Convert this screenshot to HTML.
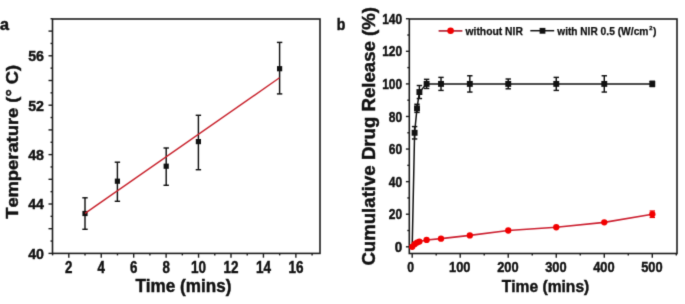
<!DOCTYPE html>
<html><head><meta charset="utf-8"><style>
html,body{margin:0;padding:0;background:#fff;width:685px;height:304px;overflow:hidden}
svg{display:block;font-family:"Liberation Sans", sans-serif;font-kerning:none}
</style></head><body>
<svg width="685" height="304" viewBox="0 0 685 304">
<defs><filter id="bl" color-interpolation-filters="sRGB" x="0" y="0" width="685" height="304" filterUnits="userSpaceOnUse"><feConvolveMatrix order="3" kernelMatrix="0.01440 0.09120 0.01440 0.09120 0.57760 0.09120 0.01440 0.09120 0.01440" edgeMode="duplicate" preserveAlpha="true"/></filter></defs>
<rect width="685" height="304" fill="#fff"/>
<g filter="url(#bl)">
<rect width="685" height="304" fill="#fff"/>
<rect x="52.5" y="19.0" width="267.5" height="234.4" fill="none" stroke="#1c1c1c" stroke-width="1.6"/>
<line x1="48.5" y1="253.40" x2="52.5" y2="253.40" stroke="#1c1c1c" stroke-width="1.4"/>
<line x1="50.5" y1="241.05" x2="52.5" y2="241.05" stroke="#1c1c1c" stroke-width="1.4"/>
<line x1="48.5" y1="228.70" x2="52.5" y2="228.70" stroke="#1c1c1c" stroke-width="1.4"/>
<line x1="50.5" y1="216.35" x2="52.5" y2="216.35" stroke="#1c1c1c" stroke-width="1.4"/>
<line x1="48.5" y1="204.00" x2="52.5" y2="204.00" stroke="#1c1c1c" stroke-width="1.4"/>
<line x1="50.5" y1="191.65" x2="52.5" y2="191.65" stroke="#1c1c1c" stroke-width="1.4"/>
<line x1="48.5" y1="179.30" x2="52.5" y2="179.30" stroke="#1c1c1c" stroke-width="1.4"/>
<line x1="50.5" y1="166.95" x2="52.5" y2="166.95" stroke="#1c1c1c" stroke-width="1.4"/>
<line x1="48.5" y1="154.60" x2="52.5" y2="154.60" stroke="#1c1c1c" stroke-width="1.4"/>
<line x1="50.5" y1="142.25" x2="52.5" y2="142.25" stroke="#1c1c1c" stroke-width="1.4"/>
<line x1="48.5" y1="129.90" x2="52.5" y2="129.90" stroke="#1c1c1c" stroke-width="1.4"/>
<line x1="50.5" y1="117.55" x2="52.5" y2="117.55" stroke="#1c1c1c" stroke-width="1.4"/>
<line x1="48.5" y1="105.20" x2="52.5" y2="105.20" stroke="#1c1c1c" stroke-width="1.4"/>
<line x1="50.5" y1="92.85" x2="52.5" y2="92.85" stroke="#1c1c1c" stroke-width="1.4"/>
<line x1="48.5" y1="80.50" x2="52.5" y2="80.50" stroke="#1c1c1c" stroke-width="1.4"/>
<line x1="50.5" y1="68.15" x2="52.5" y2="68.15" stroke="#1c1c1c" stroke-width="1.4"/>
<line x1="48.5" y1="55.80" x2="52.5" y2="55.80" stroke="#1c1c1c" stroke-width="1.4"/>
<line x1="50.5" y1="43.45" x2="52.5" y2="43.45" stroke="#1c1c1c" stroke-width="1.4"/>
<line x1="48.5" y1="31.10" x2="52.5" y2="31.10" stroke="#1c1c1c" stroke-width="1.4"/>
<line x1="50.5" y1="18.75" x2="52.5" y2="18.75" stroke="#1c1c1c" stroke-width="1.4"/>
<line x1="52.58" y1="253.4" x2="52.58" y2="255.4" stroke="#1c1c1c" stroke-width="1.4"/>
<line x1="68.80" y1="253.4" x2="68.80" y2="257.7" stroke="#1c1c1c" stroke-width="1.4"/>
<line x1="85.02" y1="253.4" x2="85.02" y2="255.4" stroke="#1c1c1c" stroke-width="1.4"/>
<line x1="101.24" y1="253.4" x2="101.24" y2="257.7" stroke="#1c1c1c" stroke-width="1.4"/>
<line x1="117.46" y1="253.4" x2="117.46" y2="255.4" stroke="#1c1c1c" stroke-width="1.4"/>
<line x1="133.68" y1="253.4" x2="133.68" y2="257.7" stroke="#1c1c1c" stroke-width="1.4"/>
<line x1="149.90" y1="253.4" x2="149.90" y2="255.4" stroke="#1c1c1c" stroke-width="1.4"/>
<line x1="166.12" y1="253.4" x2="166.12" y2="257.7" stroke="#1c1c1c" stroke-width="1.4"/>
<line x1="182.34" y1="253.4" x2="182.34" y2="255.4" stroke="#1c1c1c" stroke-width="1.4"/>
<line x1="198.56" y1="253.4" x2="198.56" y2="257.7" stroke="#1c1c1c" stroke-width="1.4"/>
<line x1="214.78" y1="253.4" x2="214.78" y2="255.4" stroke="#1c1c1c" stroke-width="1.4"/>
<line x1="231.00" y1="253.4" x2="231.00" y2="257.7" stroke="#1c1c1c" stroke-width="1.4"/>
<line x1="247.22" y1="253.4" x2="247.22" y2="255.4" stroke="#1c1c1c" stroke-width="1.4"/>
<line x1="263.44" y1="253.4" x2="263.44" y2="257.7" stroke="#1c1c1c" stroke-width="1.4"/>
<line x1="279.66" y1="253.4" x2="279.66" y2="255.4" stroke="#1c1c1c" stroke-width="1.4"/>
<line x1="295.88" y1="253.4" x2="295.88" y2="257.7" stroke="#1c1c1c" stroke-width="1.4"/>
<line x1="312.10" y1="253.4" x2="312.10" y2="255.4" stroke="#1c1c1c" stroke-width="1.4"/>
<text x="44.0" y="258.75" font-size="15.4" font-weight="bold" text-anchor="end" fill="#111" stroke="#111" stroke-width="0.45" textLength="15.8" lengthAdjust="spacingAndGlyphs">40</text>
<text x="44.0" y="209.35" font-size="15.4" font-weight="bold" text-anchor="end" fill="#111" stroke="#111" stroke-width="0.45" textLength="15.8" lengthAdjust="spacingAndGlyphs">44</text>
<text x="44.0" y="159.95000000000002" font-size="15.4" font-weight="bold" text-anchor="end" fill="#111" stroke="#111" stroke-width="0.45" textLength="15.8" lengthAdjust="spacingAndGlyphs">48</text>
<text x="44.0" y="110.55000000000001" font-size="15.4" font-weight="bold" text-anchor="end" fill="#111" stroke="#111" stroke-width="0.45" textLength="15.8" lengthAdjust="spacingAndGlyphs">52</text>
<text x="44.0" y="61.15000000000001" font-size="15.4" font-weight="bold" text-anchor="end" fill="#111" stroke="#111" stroke-width="0.45" textLength="15.8" lengthAdjust="spacingAndGlyphs">56</text>
<text x="68.80" y="272.5" font-size="16.0" font-weight="bold" text-anchor="middle" fill="#111" stroke="#111" stroke-width="0.45" textLength="7.4" lengthAdjust="spacingAndGlyphs">2</text>
<text x="101.24" y="272.5" font-size="16.0" font-weight="bold" text-anchor="middle" fill="#111" stroke="#111" stroke-width="0.45" textLength="7.4" lengthAdjust="spacingAndGlyphs">4</text>
<text x="133.68" y="272.5" font-size="16.0" font-weight="bold" text-anchor="middle" fill="#111" stroke="#111" stroke-width="0.45" textLength="7.4" lengthAdjust="spacingAndGlyphs">6</text>
<text x="166.12" y="272.5" font-size="16.0" font-weight="bold" text-anchor="middle" fill="#111" stroke="#111" stroke-width="0.45" textLength="7.4" lengthAdjust="spacingAndGlyphs">8</text>
<text x="198.56" y="272.5" font-size="16.0" font-weight="bold" text-anchor="middle" fill="#111" stroke="#111" stroke-width="0.45" textLength="15.0" lengthAdjust="spacingAndGlyphs">10</text>
<text x="231.00" y="272.5" font-size="16.0" font-weight="bold" text-anchor="middle" fill="#111" stroke="#111" stroke-width="0.45" textLength="15.0" lengthAdjust="spacingAndGlyphs">12</text>
<text x="263.44" y="272.5" font-size="16.0" font-weight="bold" text-anchor="middle" fill="#111" stroke="#111" stroke-width="0.45" textLength="15.0" lengthAdjust="spacingAndGlyphs">14</text>
<text x="295.88" y="272.5" font-size="16.0" font-weight="bold" text-anchor="middle" fill="#111" stroke="#111" stroke-width="0.45" textLength="15.0" lengthAdjust="spacingAndGlyphs">16</text>
<text x="135.4" y="291.8" font-size="17.8" font-weight="bold" text-anchor="start" fill="#111" stroke="#111" stroke-width="0.45" textLength="96.0" lengthAdjust="spacingAndGlyphs">Time (mins)</text>
<text x="18.2" y="218.8" font-size="16.6" font-weight="bold" text-anchor="start" fill="#111" stroke="#111" stroke-width="0.45" textLength="154" lengthAdjust="spacingAndGlyphs" transform="rotate(-90 18.2 218.8)">Temperature (° C)</text>
<text x="0.1" y="29.7" font-size="16.0" font-weight="bold" text-anchor="start" fill="#111" stroke="#111" stroke-width="0.5" textLength="9.0" lengthAdjust="spacingAndGlyphs">a</text>
<line x1="85.0" y1="197.8" x2="85.0" y2="229.3" stroke="#111" stroke-width="1.45"/>
<line x1="82.3" y1="197.8" x2="87.7" y2="197.8" stroke="#111" stroke-width="1.45"/>
<line x1="82.3" y1="229.3" x2="87.7" y2="229.3" stroke="#111" stroke-width="1.45"/>
<rect x="82.4" y="210.9" width="5.2" height="5.2" fill="#111"/>
<line x1="117.4" y1="162.2" x2="117.4" y2="201.3" stroke="#111" stroke-width="1.45"/>
<line x1="114.7" y1="162.2" x2="120.10000000000001" y2="162.2" stroke="#111" stroke-width="1.45"/>
<line x1="114.7" y1="201.3" x2="120.10000000000001" y2="201.3" stroke="#111" stroke-width="1.45"/>
<rect x="114.80000000000001" y="178.6" width="5.2" height="5.2" fill="#111"/>
<line x1="166.2" y1="148" x2="166.2" y2="185.3" stroke="#111" stroke-width="1.45"/>
<line x1="163.5" y1="148" x2="168.89999999999998" y2="148" stroke="#111" stroke-width="1.45"/>
<line x1="163.5" y1="185.3" x2="168.89999999999998" y2="185.3" stroke="#111" stroke-width="1.45"/>
<rect x="163.6" y="163.6" width="5.2" height="5.2" fill="#111"/>
<line x1="198.4" y1="115.3" x2="198.4" y2="169.7" stroke="#111" stroke-width="1.45"/>
<line x1="195.70000000000002" y1="115.3" x2="201.1" y2="115.3" stroke="#111" stroke-width="1.45"/>
<line x1="195.70000000000002" y1="169.7" x2="201.1" y2="169.7" stroke="#111" stroke-width="1.45"/>
<rect x="195.8" y="139.0" width="5.2" height="5.2" fill="#111"/>
<line x1="279.6" y1="42.4" x2="279.6" y2="93.9" stroke="#111" stroke-width="1.45"/>
<line x1="276.90000000000003" y1="42.4" x2="282.3" y2="42.4" stroke="#111" stroke-width="1.45"/>
<line x1="276.90000000000003" y1="93.9" x2="282.3" y2="93.9" stroke="#111" stroke-width="1.45"/>
<rect x="277.0" y="66.10000000000001" width="5.2" height="5.2" fill="#111"/>
<line x1="85" y1="213.4" x2="279.5" y2="77.8" stroke="#c8222c" stroke-width="1.4"/>
<rect x="409.3" y="19.0" width="267.7" height="234.5" fill="none" stroke="#1c1c1c" stroke-width="1.6"/>
<line x1="405.90000000000003" y1="246.80" x2="409.3" y2="246.80" stroke="#1c1c1c" stroke-width="1.4"/>
<line x1="407.3" y1="230.51" x2="409.3" y2="230.51" stroke="#1c1c1c" stroke-width="1.4"/>
<line x1="405.90000000000003" y1="214.22" x2="409.3" y2="214.22" stroke="#1c1c1c" stroke-width="1.4"/>
<line x1="407.3" y1="197.93" x2="409.3" y2="197.93" stroke="#1c1c1c" stroke-width="1.4"/>
<line x1="405.90000000000003" y1="181.64" x2="409.3" y2="181.64" stroke="#1c1c1c" stroke-width="1.4"/>
<line x1="407.3" y1="165.35" x2="409.3" y2="165.35" stroke="#1c1c1c" stroke-width="1.4"/>
<line x1="405.90000000000003" y1="149.06" x2="409.3" y2="149.06" stroke="#1c1c1c" stroke-width="1.4"/>
<line x1="407.3" y1="132.77" x2="409.3" y2="132.77" stroke="#1c1c1c" stroke-width="1.4"/>
<line x1="405.90000000000003" y1="116.48" x2="409.3" y2="116.48" stroke="#1c1c1c" stroke-width="1.4"/>
<line x1="407.3" y1="100.19" x2="409.3" y2="100.19" stroke="#1c1c1c" stroke-width="1.4"/>
<line x1="405.90000000000003" y1="83.90" x2="409.3" y2="83.90" stroke="#1c1c1c" stroke-width="1.4"/>
<line x1="407.3" y1="67.61" x2="409.3" y2="67.61" stroke="#1c1c1c" stroke-width="1.4"/>
<line x1="405.90000000000003" y1="51.32" x2="409.3" y2="51.32" stroke="#1c1c1c" stroke-width="1.4"/>
<line x1="407.3" y1="35.03" x2="409.3" y2="35.03" stroke="#1c1c1c" stroke-width="1.4"/>
<line x1="405.90000000000003" y1="18.74" x2="409.3" y2="18.74" stroke="#1c1c1c" stroke-width="1.4"/>
<line x1="412.20" y1="253.5" x2="412.20" y2="257.8" stroke="#1c1c1c" stroke-width="1.4"/>
<line x1="436.21" y1="253.5" x2="436.21" y2="255.5" stroke="#1c1c1c" stroke-width="1.4"/>
<line x1="460.22" y1="253.5" x2="460.22" y2="257.8" stroke="#1c1c1c" stroke-width="1.4"/>
<line x1="484.23" y1="253.5" x2="484.23" y2="255.5" stroke="#1c1c1c" stroke-width="1.4"/>
<line x1="508.24" y1="253.5" x2="508.24" y2="257.8" stroke="#1c1c1c" stroke-width="1.4"/>
<line x1="532.25" y1="253.5" x2="532.25" y2="255.5" stroke="#1c1c1c" stroke-width="1.4"/>
<line x1="556.26" y1="253.5" x2="556.26" y2="257.8" stroke="#1c1c1c" stroke-width="1.4"/>
<line x1="580.27" y1="253.5" x2="580.27" y2="255.5" stroke="#1c1c1c" stroke-width="1.4"/>
<line x1="604.28" y1="253.5" x2="604.28" y2="257.8" stroke="#1c1c1c" stroke-width="1.4"/>
<line x1="628.29" y1="253.5" x2="628.29" y2="255.5" stroke="#1c1c1c" stroke-width="1.4"/>
<line x1="652.30" y1="253.5" x2="652.30" y2="257.8" stroke="#1c1c1c" stroke-width="1.4"/>
<line x1="676.31" y1="253.5" x2="676.31" y2="255.5" stroke="#1c1c1c" stroke-width="1.4"/>
<text x="402.2" y="251.90" font-size="14.4" font-weight="bold" text-anchor="end" fill="#111" stroke="#111" stroke-width="0.45" textLength="7.5" lengthAdjust="spacingAndGlyphs">0</text>
<text x="402.2" y="219.32" font-size="14.4" font-weight="bold" text-anchor="end" fill="#111" stroke="#111" stroke-width="0.45" textLength="13.4" lengthAdjust="spacingAndGlyphs">20</text>
<text x="402.2" y="186.74" font-size="14.4" font-weight="bold" text-anchor="end" fill="#111" stroke="#111" stroke-width="0.45" textLength="13.4" lengthAdjust="spacingAndGlyphs">40</text>
<text x="402.2" y="154.16" font-size="14.4" font-weight="bold" text-anchor="end" fill="#111" stroke="#111" stroke-width="0.45" textLength="13.4" lengthAdjust="spacingAndGlyphs">60</text>
<text x="402.2" y="121.58" font-size="14.4" font-weight="bold" text-anchor="end" fill="#111" stroke="#111" stroke-width="0.45" textLength="13.4" lengthAdjust="spacingAndGlyphs">80</text>
<text x="402.2" y="89.00" font-size="14.4" font-weight="bold" text-anchor="end" fill="#111" stroke="#111" stroke-width="0.45" textLength="20.0" lengthAdjust="spacingAndGlyphs">100</text>
<text x="402.2" y="56.42" font-size="14.4" font-weight="bold" text-anchor="end" fill="#111" stroke="#111" stroke-width="0.45" textLength="20.0" lengthAdjust="spacingAndGlyphs">120</text>
<text x="402.2" y="23.84" font-size="14.4" font-weight="bold" text-anchor="end" fill="#111" stroke="#111" stroke-width="0.45" textLength="20.0" lengthAdjust="spacingAndGlyphs">140</text>
<text x="410.60" y="272.0" font-size="14.9" font-weight="bold" text-anchor="middle" fill="#111" stroke="#111" stroke-width="0.45" textLength="6.8" lengthAdjust="spacingAndGlyphs">0</text>
<text x="459.82" y="272.0" font-size="14.9" font-weight="bold" text-anchor="middle" fill="#111" stroke="#111" stroke-width="0.45" textLength="21.4" lengthAdjust="spacingAndGlyphs">100</text>
<text x="507.84" y="272.0" font-size="14.9" font-weight="bold" text-anchor="middle" fill="#111" stroke="#111" stroke-width="0.45" textLength="21.4" lengthAdjust="spacingAndGlyphs">200</text>
<text x="555.86" y="272.0" font-size="14.9" font-weight="bold" text-anchor="middle" fill="#111" stroke="#111" stroke-width="0.45" textLength="21.4" lengthAdjust="spacingAndGlyphs">300</text>
<text x="603.88" y="272.0" font-size="14.9" font-weight="bold" text-anchor="middle" fill="#111" stroke="#111" stroke-width="0.45" textLength="21.4" lengthAdjust="spacingAndGlyphs">400</text>
<text x="651.90" y="272.0" font-size="14.9" font-weight="bold" text-anchor="middle" fill="#111" stroke="#111" stroke-width="0.45" textLength="21.4" lengthAdjust="spacingAndGlyphs">500</text>
<text x="501.7" y="291.6" font-size="17.3" font-weight="bold" text-anchor="start" fill="#111" stroke="#111" stroke-width="0.45" textLength="87.6" lengthAdjust="spacingAndGlyphs">Time (mins)</text>
<text x="374.7" y="265.6" font-size="17.6" font-weight="bold" text-anchor="start" fill="#111" stroke="#111" stroke-width="0.45" textLength="258.6" lengthAdjust="spacingAndGlyphs" transform="rotate(-90 374.7 265.6)">Cumulative Drug Release (%)</text>
<text x="336.8" y="29.5" font-size="15.6" font-weight="bold" text-anchor="start" fill="#111" stroke="#111" stroke-width="0.45" textLength="8.6" lengthAdjust="spacingAndGlyphs">b</text>
<line x1="438.6" y1="30.9" x2="462.4" y2="30.9" stroke="#b83040" stroke-width="1.8"/>
<circle cx="450.6" cy="30.8" r="3.3" fill="#f20000"/>
<text x="465.5" y="34.5" font-size="10.3" font-weight="bold" text-anchor="start" fill="#111" stroke="#111" stroke-width="0.25" textLength="57.4" lengthAdjust="spacingAndGlyphs">without NIR</text>
<line x1="530.3" y1="30.7" x2="554.2" y2="30.7" stroke="#111" stroke-width="1.5"/>
<rect x="539.6" y="27.9" width="5.8" height="5.8" fill="#111"/>
<text x="557.3" y="34.5" font-size="10.3" font-weight="bold" text-anchor="start" fill="#111" stroke="#111" stroke-width="0.25" textLength="40.4" lengthAdjust="spacingAndGlyphs">with NIR</text>
<text x="600.6" y="34.5" font-size="10.3" font-weight="bold" text-anchor="start" fill="#111" stroke="#111" stroke-width="0.25" textLength="47.9" lengthAdjust="spacingAndGlyphs">0.5 (W/cm</text>
<text x="649.3" y="29.6" font-size="5.8" font-weight="bold" text-anchor="start" fill="#111" stroke="#111" stroke-width="0.3">2</text>
<text x="652.9" y="34.5" font-size="10.3" font-weight="bold" text-anchor="start" fill="#111" stroke="#111" stroke-width="0.25">)</text>
<polyline points="412.20,246.80 414.60,132.77 417.00,108.34 419.40,92.05 426.61,83.90 441.01,83.90 469.82,83.90 508.24,83.90 556.26,83.90 604.28,83.90 652.30,83.90" fill="none" stroke="#111" stroke-width="1.5"/>
<line x1="414.60" y1="126.58" x2="414.60" y2="138.96" stroke="#111" stroke-width="1.45"/>
<line x1="411.90" y1="126.58" x2="417.30" y2="126.58" stroke="#111" stroke-width="1.45"/>
<line x1="411.90" y1="138.96" x2="417.30" y2="138.96" stroke="#111" stroke-width="1.45"/>
<rect x="411.65" y="129.82" width="5.9" height="5.9" fill="#111"/>
<line x1="417.00" y1="104.26" x2="417.00" y2="112.41" stroke="#111" stroke-width="1.45"/>
<line x1="414.30" y1="104.26" x2="419.70" y2="104.26" stroke="#111" stroke-width="1.45"/>
<line x1="414.30" y1="112.41" x2="419.70" y2="112.41" stroke="#111" stroke-width="1.45"/>
<rect x="414.05" y="105.39" width="5.9" height="5.9" fill="#111"/>
<line x1="419.40" y1="85.53" x2="419.40" y2="98.56" stroke="#111" stroke-width="1.45"/>
<line x1="416.70" y1="85.53" x2="422.10" y2="85.53" stroke="#111" stroke-width="1.45"/>
<line x1="416.70" y1="98.56" x2="422.10" y2="98.56" stroke="#111" stroke-width="1.45"/>
<rect x="416.45" y="89.10" width="5.9" height="5.9" fill="#111"/>
<line x1="426.61" y1="79.34" x2="426.61" y2="88.46" stroke="#111" stroke-width="1.45"/>
<line x1="423.91" y1="79.34" x2="429.31" y2="79.34" stroke="#111" stroke-width="1.45"/>
<line x1="423.91" y1="88.46" x2="429.31" y2="88.46" stroke="#111" stroke-width="1.45"/>
<rect x="423.66" y="80.95" width="5.9" height="5.9" fill="#111"/>
<line x1="441.01" y1="77.38" x2="441.01" y2="90.42" stroke="#111" stroke-width="1.45"/>
<line x1="438.31" y1="77.38" x2="443.71" y2="77.38" stroke="#111" stroke-width="1.45"/>
<line x1="438.31" y1="90.42" x2="443.71" y2="90.42" stroke="#111" stroke-width="1.45"/>
<rect x="438.06" y="80.95" width="5.9" height="5.9" fill="#111"/>
<line x1="469.82" y1="75.76" x2="469.82" y2="92.05" stroke="#111" stroke-width="1.45"/>
<line x1="467.12" y1="75.76" x2="472.52" y2="75.76" stroke="#111" stroke-width="1.45"/>
<line x1="467.12" y1="92.05" x2="472.52" y2="92.05" stroke="#111" stroke-width="1.45"/>
<rect x="466.87" y="80.95" width="5.9" height="5.9" fill="#111"/>
<line x1="508.24" y1="79.01" x2="508.24" y2="88.79" stroke="#111" stroke-width="1.45"/>
<line x1="505.54" y1="79.01" x2="510.94" y2="79.01" stroke="#111" stroke-width="1.45"/>
<line x1="505.54" y1="88.79" x2="510.94" y2="88.79" stroke="#111" stroke-width="1.45"/>
<rect x="505.29" y="80.95" width="5.9" height="5.9" fill="#111"/>
<line x1="556.26" y1="77.38" x2="556.26" y2="90.42" stroke="#111" stroke-width="1.45"/>
<line x1="553.56" y1="77.38" x2="558.96" y2="77.38" stroke="#111" stroke-width="1.45"/>
<line x1="553.56" y1="90.42" x2="558.96" y2="90.42" stroke="#111" stroke-width="1.45"/>
<rect x="553.31" y="80.95" width="5.9" height="5.9" fill="#111"/>
<line x1="604.28" y1="75.76" x2="604.28" y2="92.05" stroke="#111" stroke-width="1.45"/>
<line x1="601.58" y1="75.76" x2="606.98" y2="75.76" stroke="#111" stroke-width="1.45"/>
<line x1="601.58" y1="92.05" x2="606.98" y2="92.05" stroke="#111" stroke-width="1.45"/>
<rect x="601.33" y="80.95" width="5.9" height="5.9" fill="#111"/>
<line x1="652.30" y1="81.29" x2="652.30" y2="86.51" stroke="#111" stroke-width="1.45"/>
<line x1="649.60" y1="81.29" x2="655.00" y2="81.29" stroke="#111" stroke-width="1.45"/>
<line x1="649.60" y1="86.51" x2="655.00" y2="86.51" stroke="#111" stroke-width="1.45"/>
<rect x="649.35" y="80.95" width="5.9" height="5.9" fill="#111"/>
<polyline points="412.20,246.80 414.60,244.19 417.00,242.56 419.40,241.59 426.61,239.96 441.01,238.66 469.82,235.40 508.24,230.51 556.26,227.25 604.28,222.37 652.30,214.22" fill="none" stroke="#cc2030" stroke-width="1.6"/>
<circle cx="412.20" cy="246.80" r="3.15" fill="#f20000"/>
<circle cx="414.60" cy="244.19" r="3.15" fill="#f20000"/>
<circle cx="417.00" cy="242.56" r="3.15" fill="#f20000"/>
<circle cx="419.40" cy="241.59" r="3.15" fill="#f20000"/>
<circle cx="426.61" cy="239.96" r="3.15" fill="#f20000"/>
<circle cx="441.01" cy="238.66" r="3.15" fill="#f20000"/>
<circle cx="469.82" cy="235.40" r="3.15" fill="#f20000"/>
<circle cx="508.24" cy="230.51" r="3.15" fill="#f20000"/>
<circle cx="556.26" cy="227.25" r="3.15" fill="#f20000"/>
<circle cx="604.28" cy="222.37" r="3.15" fill="#f20000"/>
<line x1="652.30" y1="210.96" x2="652.30" y2="217.48" stroke="#e00" stroke-width="1.2"/>
<line x1="649.60" y1="210.96" x2="655.00" y2="210.96" stroke="#e00" stroke-width="1.2"/>
<line x1="649.60" y1="217.48" x2="655.00" y2="217.48" stroke="#e00" stroke-width="1.2"/>
<circle cx="652.30" cy="214.22" r="3.15" fill="#f20000"/>
</g>
</svg>
</body></html>
